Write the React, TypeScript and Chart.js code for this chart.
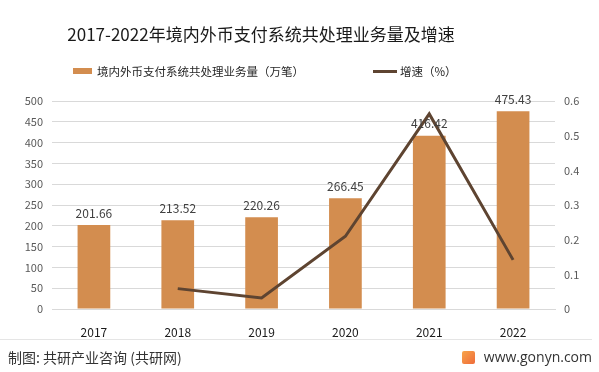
import React, { useEffect, useRef } from "react";
import { Chart, registerables } from "chart.js";

Chart.register(...registerables);

const categories = ["2017", "2018", "2019", "2020", "2021", "2022"];
const volume = [201.66, 213.52, 220.26, 266.45, 416.42, 475.43];
const growth = [null, 0.0588, 0.0316, 0.2097, 0.5628, 0.1417];
const leftTicks = [0, 50, 100, 150, 200, 250, 300, 350, 400, 450, 500];
const rightTicks = [0, 0.1, 0.2, 0.3, 0.4, 0.5, 0.6];

const BAR = "#D38D4F";
const LINE = "#5E4431";
const FONT = "'Noto Sans CJK SC', 'Noto Sans', sans-serif";

const barLabels = {
  id: "barLabels",
  afterDatasetsDraw(chart: any) {
    const ctx = chart.ctx;
    const meta = chart.getDatasetMeta(0);
    ctx.save();
    ctx.font = "12px " + FONT;
    ctx.fillStyle = "#404040";
    ctx.textAlign = "center";
    ctx.textBaseline = "bottom";
    meta.data.forEach((el: any, i: number) => {
      ctx.fillText(volume[i].toFixed(2), el.x, el.y - 6);
    });
    ctx.restore();
  },
};

export default function App() {
  const ref = useRef<HTMLCanvasElement>(null);
  useEffect(() => {
    document.body.style.margin = "0";
    const chart = new Chart(ref.current!, {
      type: "bar",
      data: {
        labels: categories,
        datasets: [
          {
            type: "bar",
            label: "境内外币支付系统共处理业务量（万笔）",
            data: volume,
            backgroundColor: BAR,
            yAxisID: "y",
            barPercentage: 0.39,
            categoryPercentage: 1,
            order: 2,
          },
          {
            type: "line",
            label: "增速（%）",
            data: growth as any,
            borderColor: LINE,
            borderWidth: 3,
            pointRadius: 0,
            tension: 0,
            yAxisID: "y1",
            order: 1,
          },
        ],
      },
      options: {
        responsive: false,
        animation: false,
        layout: { padding: { top: 101, left: 6, right: 0, bottom: 33 } },
        plugins: { legend: { display: false }, title: { display: false }, tooltip: { enabled: false } },
        scales: {
          x: {
            grid: { display: false },
            border: { color: "#D9D9D9" },
            ticks: { color: "#1a1a1a", font: { size: 12, family: FONT }, padding: 8 },
            afterFit: (s: any) => { s.height = 30; },
          },
          y: {
            position: "left",
            min: 0,
            max: 500,
            afterBuildTicks: (s: any) => { s.ticks = leftTicks.map((v) => ({ value: v })); },
            grid: { color: "#D9D9D9", drawTicks: false },
            border: { display: false },
            ticks: { color: "#595959", font: { size: 11, family: FONT }, padding: 9 },
            afterFit: (s: any) => { s.width = 46; },
          },
          y1: {
            position: "right",
            min: 0,
            max: 0.6,
            afterBuildTicks: (s: any) => { s.ticks = rightTicks.map((v) => ({ value: v })); },
            grid: { display: false, drawTicks: false },
            border: { display: false },
            ticks: { color: "#595959", font: { size: 11, family: FONT }, padding: 9 },
            afterFit: (s: any) => { s.width = 44; },
          },
        },
      },
      plugins: [barLabels],
    });
    return () => chart.destroy();
  }, []);

  return (
    <div style={{ position: "relative", width: 599, height: 372, background: "#fff", fontFamily: FONT, overflow: "hidden" }}>
      <canvas ref={ref} width={599} height={372} style={{ position: "absolute", left: 0, top: 0 }} />
      <div style={{ position: "absolute", left: 0, width: 522, top: 22, textAlign: "center", fontSize: 17, color: "#1a1a1a", lineHeight: "24px" }}>
        2017-2022年境内外币支付系统共处理业务量及增速
      </div>
      <div style={{ position: "absolute", left: 73, top: 62, display: "flex", alignItems: "center", fontSize: 11.5, color: "#262626", lineHeight: "18px" }}>
        <span style={{ display: "inline-block", width: 19, height: 6, background: BAR, marginRight: 5 }} />
        <span>境内外币支付系统共处理业务量（万笔）</span>
      </div>
      <div style={{ position: "absolute", left: 373, top: 62, display: "flex", alignItems: "center", fontSize: 11.5, color: "#262626", lineHeight: "18px" }}>
        <span style={{ display: "inline-block", width: 24, height: 3, background: LINE, marginRight: 3 }} />
        <span>增速（%）</span>
      </div>
      <div style={{ position: "absolute", left: 0, right: 7, top: 339, height: 1, background: "#E5E5E5" }} />
      <div style={{ position: "absolute", left: 8, top: 347, fontSize: 14, color: "#333", lineHeight: "20px" }}>
        制图: 共研产业咨询 (共研网)
      </div>
      <div style={{ position: "absolute", right: 7, top: 347, display: "flex", alignItems: "center", fontSize: 14, color: "#333", lineHeight: "20px" }}>
        <span style={{ display: "inline-block", width: 13, height: 13, background: "linear-gradient(135deg,#F7A54A,#EF6B3A)", borderRadius: 2, marginRight: 9 }} />
        <span style={{ fontFamily: "'Open Sans', sans-serif" }}>www.gonyn.com</span>
      </div>
    </div>
  );
}
